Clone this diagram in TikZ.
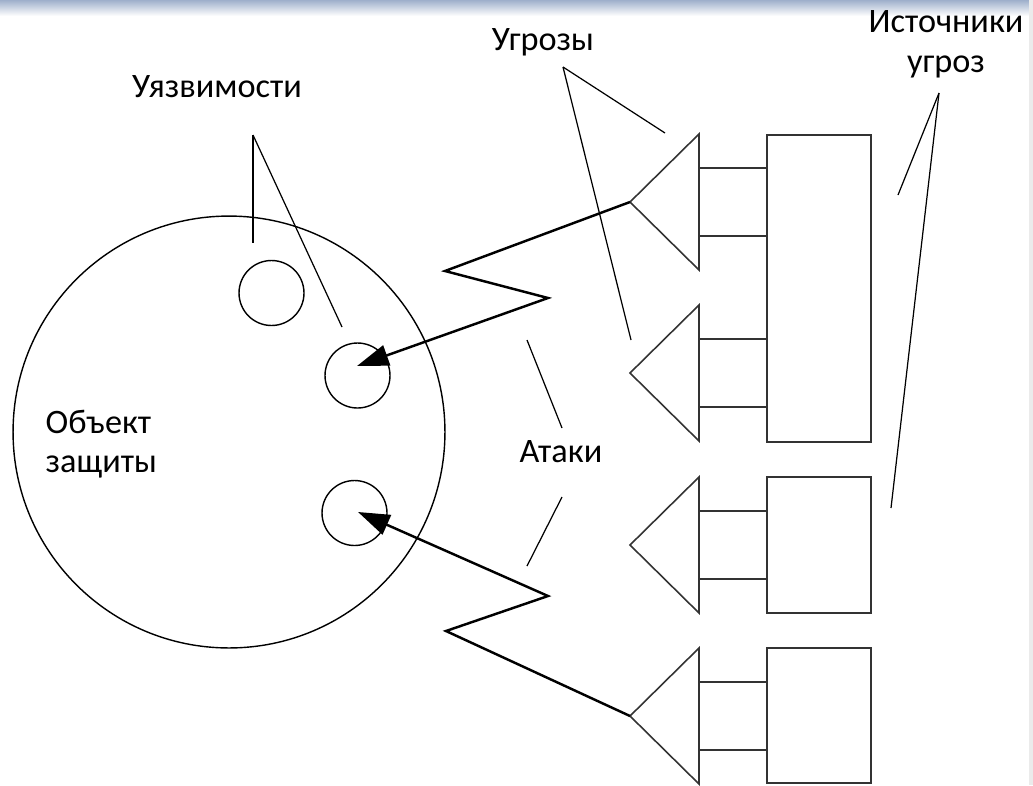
\documentclass[tikz,border=0pt]{standalone}
\usepackage{fontspec}
\setmainfont{Carlito}
\usepackage{tikz}
\usetikzlibrary{calc}
\usetikzlibrary{arrows.meta}

\tikzset{
    lbl/.style={font=\fontsize{19.5}{22.5}\selectfont, inner sep=0pt},
    hole/.style={circle, draw, minimum size=1.3cm, inner sep=0pt},
    leader/.style={line width=0.7pt},
    attack/.style={line width=1.4pt, -{Triangle[length=18pt, width=12pt]}},
    part/.style={draw=black!80, line width=0.9pt},
}

\begin{document}
\begin{tikzpicture}[x=0.02cm, y=-0.02cm, line width=0.8pt]
    \useasboundingbox (0, 0) rectangle (1033, 785);
    \shade [top color={rgb,255:red,158;green,175;blue,203}, bottom color=white] (0, 0) rectangle (1033, 16); % window band
    \fill [black!8] (1029, 0) rectangle (1033, 785); % right edge

    % protected object
    \node [circle, draw, minimum size=8.64cm, inner sep=0pt] (obj) at (229, 432) {};
    \node [lbl, align=left, anchor=north west] (objlbl) at (45, 409) {Объект\\защиты};

    % vulnerabilities
    \node [hole] (v1) at (271.5, 293) {};
    \node [hole] (v2) at (357.5, 375.5) {};
    \node [hole] (v3) at (354.5, 513) {};
    \node [lbl, anchor=base] (vlbl) at (217, 97) {Уязвимости};
    \coordinate (vtop) at (253, 135);
    \coordinate (vend1) at (253, 243);
    \coordinate (vend2) at (342, 327);
    \draw [leader] (vtop) -- (vend1);
    \draw [leader] (vtop) -- (vend2);

    % threats and their sources
    \foreach \yc/\nm in {202/t1, 373/t2, 545/t3, 716/t4} {
        \coordinate (\nm) at (630, \yc); % apex
        \draw [part] (\nm) -- (699, \yc-68) -- (699, \yc+68) -- cycle; % threat
        \draw [part] (699, \yc-34) rectangle (767, \yc+34); % link
    }
    \draw [part] (767, 135) rectangle (871, 442); % source 1
    \draw [part] (767, 477) rectangle (871, 613); % source 2
    \draw [part] (767, 648) rectangle (871, 783); % source 3

    % attacks
    \coordinate (hit2) at (357, 366);
    \coordinate (hit3) at (358, 512);
    \draw [attack] (t1) -- (445, 271) -- (548, 298) -- (hit2);
    \draw [attack] (t4) -- (446, 631) -- (548, 596) -- (hit3);

    % labels with leaders
    \node [lbl, anchor=base] (tlbl) at (543, 50) {Угрозы};
    \coordinate (ttop) at (563, 67);
    \coordinate (tend1) at (665, 133);
    \coordinate (tend2) at (631, 340);
    \draw [leader] (ttop) -- (tend1);
    \draw [leader] (ttop) -- (tend2);

    \node [lbl, anchor=base] (albl) at (561, 462) {Атаки};
    \coordinate (aend1) at (527, 340);
    \coordinate (aend2) at (562, 428);
    \coordinate (aend3) at (562, 497);
    \coordinate (aend4) at (527, 566);
    \draw [leader] (aend1) -- (aend2);
    \draw [leader] (aend3) -- (aend4);

    \node [lbl, align=center, anchor=north] (slbl) at (946, 10) {Источники\\угроз};
    \coordinate (stop) at (939, 93);
    \coordinate (send1) at (898, 195);
    \coordinate (send2) at (891, 508);
    \draw [leader] (stop) -- (send1);
    \draw [leader] (stop) -- (send2);
\end{tikzpicture}
\end{document}
